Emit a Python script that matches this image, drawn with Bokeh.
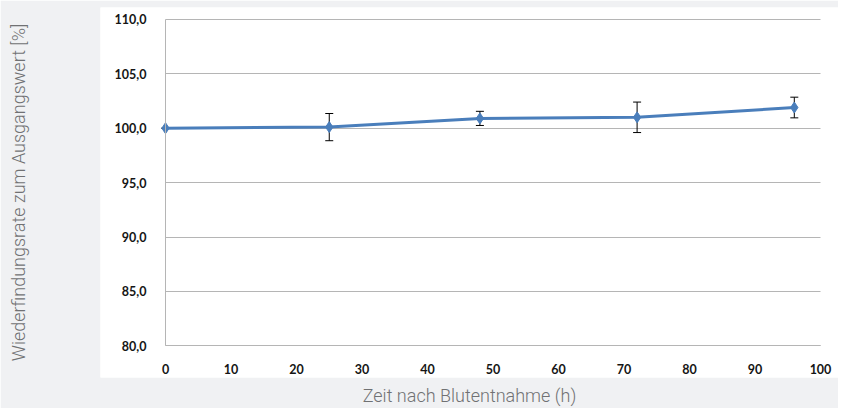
from bokeh.plotting import figure
from bokeh.models import (Whisker, ColumnDataSource, FixedTicker, TeeHead,
                          Range1d, LinearAxis, Grid)
from bokeh.embed import file_html
from bokeh.resources import INLINE

hours = [0, 25, 48, 72, 96]
recovery = [100.0, 100.1, 100.9, 101.0, 101.9]
errors = [0.0, 1.25, 0.65, 1.4, 0.95]
x_ticks = [0, 10, 20, 30, 40, 50, 60, 70, 80, 90, 100]
y_ticks = [80, 85, 90, 95, 100, 105, 110]
y_tick_labels = ["80,0", "85,0", "90,0", "95,0", "100,0", "105,0", "110,0"]

src = ColumnDataSource(dict(
    x=hours, y=recovery,
    upper=[v + e for v, e in zip(recovery, errors)],
    lower=[v - e for v, e in zip(recovery, errors)],
))

# white panel spans screen x 100..838, y 7..381; data 0..100 -> x 165..820, 80..110 -> y 349..19
xpx = (820 - 165) / 100.0
ypx = (349 - 19) / 30.0
x_range = Range1d(0 - (165 - 100) / xpx, 100 + (838 - 820) / xpx)
y_range = Range1d(80 - (381 - 349) / ypx, 110 + (19 - 7) / ypx)

p = figure(width=838, height=408, output_backend="svg", toolbar_location=None,
           x_range=x_range, y_range=y_range,
           x_axis_location=None, y_axis_location=None)
p.min_border_left = 100
p.min_border_right = 0
p.min_border_top = 7
p.min_border_bottom = 27
p.border_fill_color = "#f0f1f3"
p.background_fill_color = "white"
p.outline_line_color = None
p.grid.grid_line_color = None

LABEL_FONT = "Lato"
TITLE_FONT = "Roboto Light, Lato Light, Roboto"
TITLE_COLOR = "#707173"
AX_COLOR = "#b5b5b5"

def style_ticks(ax):
    ax.major_tick_line_color = None
    ax.minor_tick_line_color = None
    ax.axis_line_color = AX_COLOR
    ax.major_label_text_font = LABEL_FONT
    ax.major_label_text_font_style = "bold"
    ax.major_label_text_font_size = "12.5px"
    ax.major_label_text_color = "#151515"

def style_title(ax):
    ax.major_tick_line_color = None
    ax.minor_tick_line_color = None
    ax.axis_line_color = None
    ax.major_label_standoff = 0
    ax.major_tick_out = 0
    ax.axis_label_text_font = TITLE_FONT
    ax.axis_label_text_font_style = "normal"
    ax.axis_label_text_font_size = "18px"
    ax.axis_label_text_color = TITLE_COLOR

# tick axes inside the white panel
yax = LinearAxis(fixed_location=0, ticker=FixedTicker(ticks=y_ticks), bounds=(80, 110))
style_ticks(yax)
yax.major_label_overrides = {t: l for t, l in zip(y_ticks, y_tick_labels)}
yax.major_label_standoff = 13
p.add_layout(yax, "left")

xax = LinearAxis(fixed_location=80, ticker=FixedTicker(ticks=x_ticks), bounds=(0, 100))
style_ticks(xax)
xax.major_label_standoff = 12
p.add_layout(xax, "below")

# title-only axes in the grey margin
ytitle = LinearAxis(ticker=FixedTicker(ticks=[]), axis_label="Wiederfindungsrate zum Ausgangswert [%]")
style_title(ytitle)
ytitle.axis_label_standoff = 72
p.add_layout(ytitle, "left")

xtitle = LinearAxis(ticker=FixedTicker(ticks=[]), axis_label="Zeit nach Blutentnahme (h)",
                    bounds=(0, 100))
style_title(xtitle)
xtitle.axis_label_standoff = 7
p.add_layout(xtitle, "below")

g = Grid(dimension=1, ticker=FixedTicker(ticks=y_ticks), grid_line_color=AX_COLOR, grid_line_width=1)
if "cross_bounds" in g.properties():
    g.cross_bounds = (0, 100)
    p.add_layout(g)
else:
    p.segment(x0=[0] * len(y_ticks), x1=[100] * len(y_ticks), y0=y_ticks, y1=y_ticks,
              line_color=AX_COLOR, line_width=1)

p.line("x", "y", source=src, line_color="#4a7ebb", line_width=3)
w = Whisker(base="x", upper="upper", lower="lower", source=src,
            line_color="black", line_width=1,
            upper_head=TeeHead(size=8, line_color="black", line_width=1),
            lower_head=TeeHead(size=8, line_color="black", line_width=1))
p.add_layout(w)
p.scatter("x", "y", source=src, marker="diamond", size=11,
          fill_color="#4a7ebb", line_color="#4a7ebb")

open("out.html", "w").write(file_html(p, INLINE))
